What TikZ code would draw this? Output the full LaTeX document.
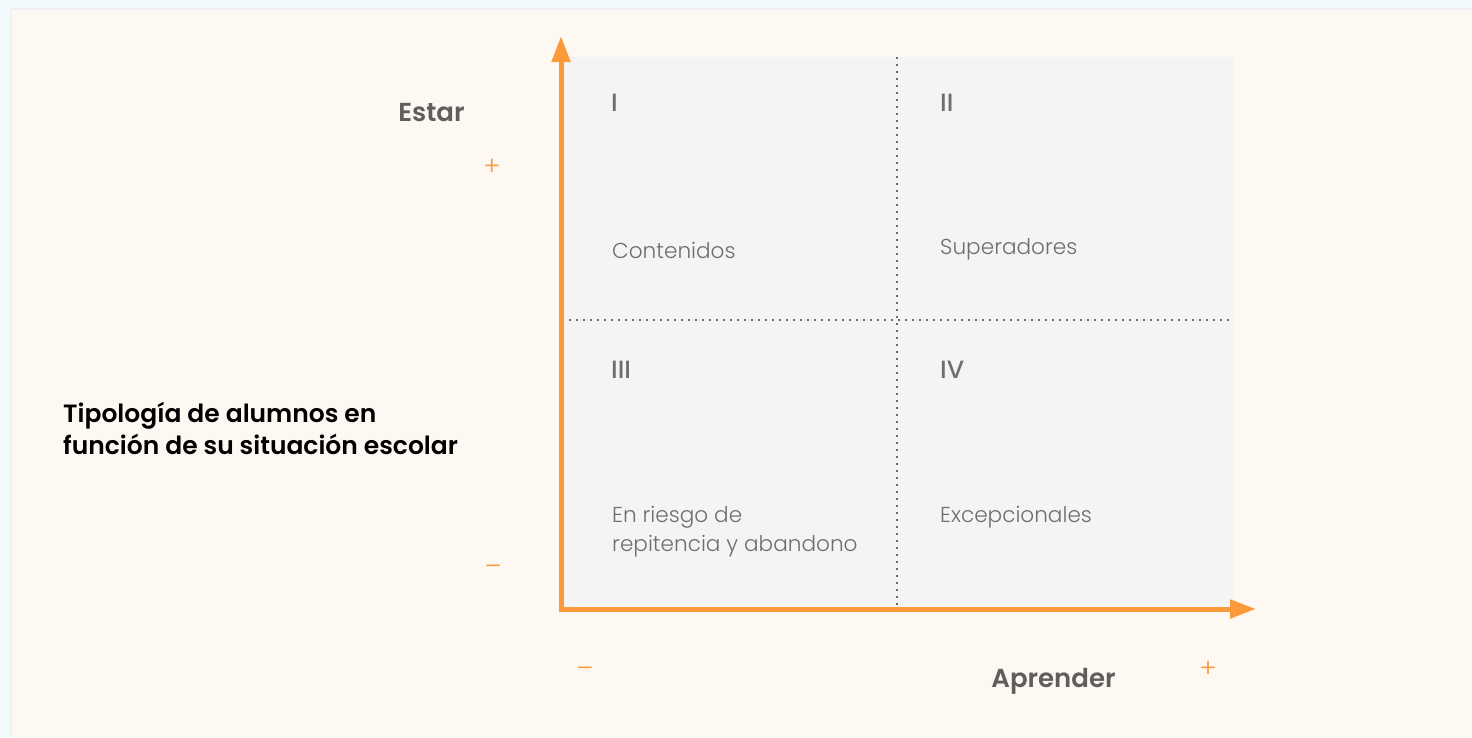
\documentclass[tikz,border=0pt]{standalone}
\usepackage{fontspec}
\setmainfont{Poppins}
\newfontfamily\lightfont{Poppins Light}
\newfontfamily\semifont{Poppins SemiBold}
\newfontfamily\medfont{Poppins Medium}
\usetikzlibrary{arrows.meta}
\definecolor{outerbg}{HTML}{F1FAFD}
\definecolor{cardbg}{HTML}{FEF8F2}
\definecolor{boxbg}{HTML}{F4F4F4}
\definecolor{axisor}{HTML}{FB9A3B}
\definecolor{labgray}{HTML}{5E5E5E}
\definecolor{quadgray}{HTML}{6E6E6E}
\definecolor{dotgray}{HTML}{6A6A6A}
\tikzset{
  axislab/.style={font=\fontsize{26}{30}\selectfont\semifont, text=labgray, inner sep=0pt},
  signlab/.style={font=\fontsize{26}{26}\selectfont\lightfont, text=axisor, inner sep=0pt},
  numlab/.style={font=\fontsize{25}{30}\selectfont\medfont, text=quadgray, inner sep=0pt, anchor=west},
  quadlab/.style={font=\fontsize{21.6}{29}\selectfont\lightfont, text=quadgray, inner sep=0pt, anchor=west, align=left},
  titlelab/.style={font=\fontsize{25}{32}\selectfont\semifont, text=black, inner sep=0pt, anchor=west, align=left},
  axisline/.style={draw=axisor, line width=5pt, -{Triangle[length=26pt,width=18pt]}},
  divline/.style={draw=dotgray, line width=1.6pt, dash pattern=on 1.6pt off 5.4pt}
}
\begin{document}
\begin{tikzpicture}[x=1pt,y=-1pt]
\useasboundingbox (0,0) rectangle (1472,737);
\fill[outerbg] (0,0) rectangle (1472,737);
\fill[black!6] (10,8) rectangle (1472,737);
\fill[cardbg] (12,10) rectangle (1472,737);
% quadrant area
\fill[boxbg] (562,57) rectangle (1233,608);
\coordinate (vtop) at (897,57);
\coordinate (vbot) at (897,608);
\coordinate (hleft) at (562,320);
\coordinate (hright) at (1233,320);
\draw[divline] (vtop) -- (vbot);
\draw[divline] (hleft) -- (hright);
% axes
\coordinate (origin) at (561,609);
\coordinate (ytip) at (561,36);
\coordinate (xtip) at (1256,609);
\draw[axisline] ([yshift=2.5pt]origin) -- (ytip);
\draw[axisline] ([xshift=-2.5pt]origin) -- (xtip);
% axis labels
\node[axislab] (estar) at (431.5,113) {Estar};
\node[axislab] (aprender) at (1053.5,681) {Aprender};
\node[signlab] (yplus) at (492,167) {+};
\node[signlab] (yminus) at (493,570) {–};
\node[signlab] (xminus) at (585,672) {–};
\node[signlab] (xplus) at (1208,669) {+};
% quadrant numbers
\node[numlab] (q1) at (611,103) {I};
\node[numlab] (q2) at (940,103) {II};
\node[numlab] (q3) at (611,370) {III};
\node[numlab] (q4) at (940,370) {IV};
% quadrant names
\node[quadlab] (n1) at (612,250.5) {Contenidos};
\node[quadlab] (n2) at (940,249.5) {Superadores};
\node[quadlab] (n3) at (612,532) {En riesgo de\\repitencia y abandono};
\node[quadlab] (n4) at (940,517) {Excepcionales};
% title
\node[titlelab] (title) at (63,428) {Tipología de alumnos en\\función de su situación escolar};
\end{tikzpicture}
\end{document}
